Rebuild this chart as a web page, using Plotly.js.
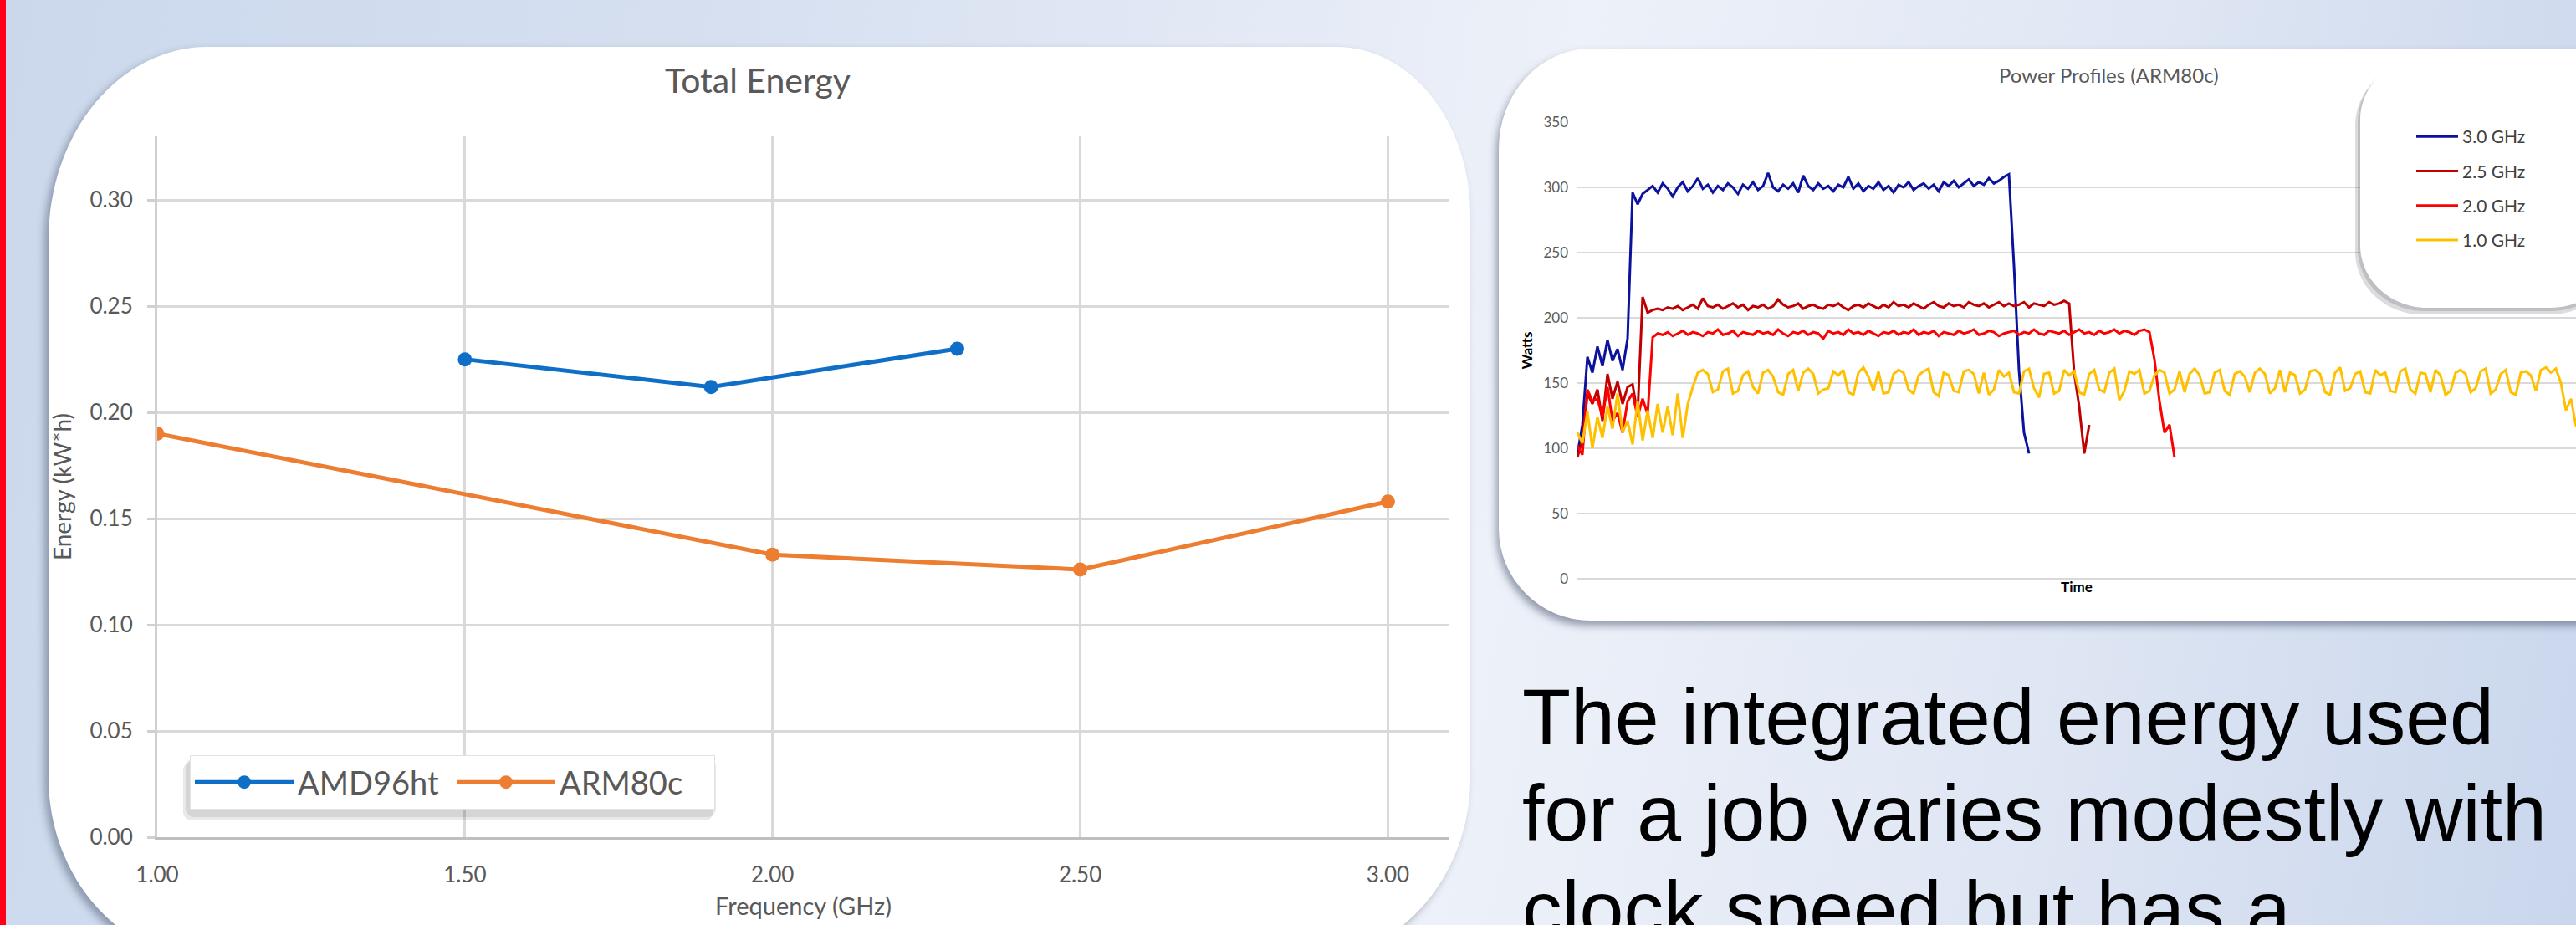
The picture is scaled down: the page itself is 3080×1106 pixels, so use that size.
<!DOCTYPE html>
<html><head><meta charset="utf-8">
<script src="https://cdn.plot.ly/plotly-3.0.1.min.js"></script>
<style>
html,body{margin:0;padding:0;width:3080px;height:1106px;overflow:hidden;}
body{position:relative;background:linear-gradient(100deg,#cbd8ec 0%,#d5dff0 25%,#e5ebf6 48%,#edf1f9 58%,#e0e7f4 78%,#c9d6ec 100%);}
#strip{position:absolute;left:0;top:0;width:7px;height:1106px;background:#ff0018;}
#card1{position:absolute;left:58px;top:56px;width:1700px;height:1094px;background:#fff;
  border-radius:190px 160px 200px 200px / 230px 200px 220px 220px;box-shadow:-5px 5px 10px rgba(60,70,95,0.45);}
#card2{position:absolute;left:1792px;top:58px;width:1400px;height:684px;background:#fff;
  border-radius:110px 0 0 110px / 120px 0 0 110px;box-shadow:-3px 6px 10px rgba(60,70,95,0.5);}
#chart{position:absolute;left:0;top:0;width:3080px;height:1106px;}
</style></head>
<body>
<div id="strip"></div><div id="card1"></div><div id="card2"></div><div id="chart"></div>
<script>
// ---- Total Energy chart data ----
const amdFreq = [1.5, 1.9, 2.3];
const amdEnergy = [0.225, 0.212, 0.230];
const armFreq = [1.0, 2.0, 2.5, 3.0];
const armEnergy = [0.190, 0.133, 0.126, 0.158];

// ---- Power Profiles (ARM80c) data, watts sampled every 6 time units ----
const sampleStep = 6;
const w30 = [95,118,170,158,178,163,183,167,176,160,184,296,287,295,
 298,301,296,303,299,293,300,304,297,301,
 307,299,302,296,301,298,303,300,295,302,
 299,304,298,301,311,300,297,302,299,303,
 296,309,301,298,303,299,301,297,302,300,
 308,299,303,297,301,299,304,298,301,296,
 302,300,304,298,301,303,299,302,297,304,
 301,305,300,303,306,301,304,302,307,303,
 305,308,
 310,240,160,112,96];
const w25 = [93,106,142,134,145,121,157,138,151,134,147,149,126,216,204,206,
 207,206,208,207,209,206,208,210,207,215,
 209,208,210,207,209,211,208,210,206,209,
 208,210,207,209,214,210,208,209,211,207,
 209,210,208,207,210,209,211,208,206,209,
 210,208,211,209,207,210,208,212,209,210,
 208,211,209,207,210,212,209,208,211,209,
 210,208,212,210,209,211,208,210,212,209,
 211,209,210,212,208,211,210,209,212,210,
 211,213,211,
 158,132,96,118];
const w20 = [102,95,145,136,138,124,147,121,127,112,136,142,124,138,126,185,
 188,187,189,186,188,190,187,189,188,186,
 189,188,191,187,188,190,186,189,188,187,
 190,188,189,187,191,188,186,189,188,190,
 187,189,188,184,190,188,189,187,191,188,
 189,187,190,188,186,189,188,190,187,189,
 188,191,187,189,188,190,186,189,188,187,
 190,188,189,191,187,188,190,189,186,188,
 189,190,187,189,188,191,188,187,190,189,
 188,190,187,189,191,188,189,187,190,188,
 189,191,188,190,189,187,190,191,189,
 168,136,112,118,93];
const w10 = [112,104,128,100,124,108,132,115,142,112,121,103,136,106,129,108,134,112,132,110,142,108,134,
 147,
 158,160,157,143,145,159,161,142,144,156,
 159,147,142,158,160,155,143,141,157,160,
 144,158,161,157,142,145,146,159,156,160,
 143,141,158,162,155,144,159,142,143,157,
 160,158,145,142,156,159,161,143,140,158,
 156,144,143,159,160,157,142,158,141,145,
 160,155,158,143,142,159,161,146,139,157,
 158,142,144,160,156,159,143,141,157,160,
 145,143,158,161,137,144,159,157,160,142,
 144,156,160,158,142,145,159,143,157,161,
 156,142,143,158,160,144,141,157,159,155,
 143,158,161,157,142,146,160,143,158,156,
 142,145,159,160,157,143,141,158,162,144,
 146,157,159,143,142,160,156,158,144,143,
 159,161,145,142,158,157,143,160,156,141,
 144,158,160,157,143,146,159,161,142,145,
 157,160,143,141,158,159,156,144,160,162,
 158,161,
 150,129,138,117,126];
const profileNames = ['3.0 GHz','2.5 GHz','2.0 GHz','1.0 GHz'];

const paragraph = ['The integrated energy used','for a job varies modestly with','clock speed but has a'];

// ---- layout helpers (pixel -> paper) ----
const W = 3080, H = 1106;
const px = x => x / W;
const py = y => 1 - y / H;
function P(x,y){ return px(x).toFixed(5)+','+py(y).toFixed(5); }
function rrect(x0,y0,x1,y1,rx,ry){
  const k = 0.5523;
  return 'M'+P(x0+rx,y0)+' L'+P(x1-rx,y0)+
    ' C'+P(x1-rx+k*rx,y0)+' '+P(x1,y0+ry-k*ry)+' '+P(x1,y0+ry)+
    ' L'+P(x1,y1-ry)+
    ' C'+P(x1,y1-ry+k*ry)+' '+P(x1-rx+k*rx,y1)+' '+P(x1-rx,y1)+
    ' L'+P(x0+rx,y1)+
    ' C'+P(x0+rx-k*rx,y1)+' '+P(x0,y1-ry+k*ry)+' '+P(x0,y1-ry)+
    ' L'+P(x0,y0+ry)+
    ' C'+P(x0,y0+ry-k*ry)+' '+P(x0+rx-k*rx,y0)+' '+P(x0+rx,y0)+' Z';
}

const F = 'Lato, "Open Sans", sans-serif';
const grey = '#595959';
const profColors = ['#0c129c','#c00000','#ff0000','#ffc000'];
const profData = [w30, w25, w20, w10];

const traces = [
  {x: amdFreq, y: amdEnergy, name: 'AMD96ht', type: 'scatter', mode: 'lines+markers',
   line: {color: '#0f6fc6', width: 5}, marker: {color: '#0f6fc6', size: 17},
   xaxis: 'x', yaxis: 'y', legend: 'legend'},
  {x: armFreq, y: armEnergy, name: 'ARM80c', type: 'scatter', mode: 'lines+markers',
   line: {color: '#ed7d31', width: 5}, marker: {color: '#ed7d31', size: 17},
   xaxis: 'x', yaxis: 'y', legend: 'legend'}
];
profData.forEach((w,i) => {
  traces.push({y: w, x0: 0, dx: sampleStep, name: profileNames[i], type: 'scatter', mode: 'lines',
    line: {color: profColors[i], width: 3}, xaxis: 'x2', yaxis: 'y2',
    legend: 'legend2', legendgroup: 'g'+i});
});

const shapes = [
  // shadow of the Total Energy legend box
  {type:'path', xref:'paper', yref:'paper', layer:'above', path: rrect(219,911,853,981,10,10),
   fillcolor:'rgba(40,40,50,0.10)', line:{width:0}},
  {type:'path', xref:'paper', yref:'paper', layer:'above', path: rrect(222,907,856,977,10,10),
   fillcolor:'rgba(40,40,50,0.10)', line:{width:0}},
  // rounded card behind the power-profile legend
  {type:'path', xref:'paper', yref:'paper', layer:'above', path: rrect(2816,75,3130,376,80,75),
   fillcolor:'rgba(60,60,70,0.18)', line:{width:0}},
  {type:'path', xref:'paper', yref:'paper', layer:'above', path: rrect(2819,71,3130,372,80,75),
   fillcolor:'rgba(60,60,70,0.18)', line:{width:0}},
  {type:'path', xref:'paper', yref:'paper', layer:'above', path: rrect(2822,68,3130,368,80,75),
   fillcolor:'#ffffff', line:{width:0}}
];

const annotations = [
  {text:'Total Energy', xref:'paper', yref:'paper', x:px(906), y:py(96), xanchor:'center', yanchor:'middle',
   showarrow:false, font:{family:F, size:41, color:grey}},
  {text:'Power Profiles (ARM80c)', xref:'paper', yref:'paper', x:px(2521), y:py(90), xanchor:'center', yanchor:'middle',
   showarrow:false, font:{family:F, size:24, color:grey}}
];
paragraph.forEach((t,i) => {
  annotations.push({text:t, xref:'paper', yref:'paper', x:px(1818), y:py(857 + 115*i), xanchor:'left', yanchor:'middle',
    showarrow:false, font:{family:'"Liberation Sans", Arial, sans-serif', size:95, color:'#000'}});
});

const layout = {
  width: W, height: H, margin: {l:0, r:0, t:0, b:0},
  paper_bgcolor: 'rgba(0,0,0,0)', plot_bgcolor: 'rgba(0,0,0,0)',
  hovermode: false,
  xaxis: {domain:[px(188), px(1733)], range:[1, 3.1], dtick:0.5, tick0:1, tickformat:'.2f',
    showgrid:true, gridcolor:'#d9d9d9', gridwidth:2.5, zeroline:false,
    showline:true, linecolor:'#bfbfbf', linewidth:3, ticks:'', ticklabelstandoff:20,
    tickfont:{family:F, size:26, color:grey},
    title:{text:'Frequency (GHz)', font:{family:F, size:29, color:grey}, standoff:14}},
  yaxis: {domain:[py(1001), py(163)], range:[0, 0.33], dtick:0.05, tick0:0, tickformat:'.2f',
    showgrid:true, gridcolor:'#d9d9d9', gridwidth:2.5, zeroline:false,
    showline:true, linecolor:'#d0d0d0', linewidth:3,
    ticks:'outside', ticklen:9, tickwidth:2.5, tickcolor:'#d0d0d0', ticklabelstandoff:12,
    tickfont:{family:F, size:26, color:grey},
    title:{text:'Energy (kW*h)', font:{family:F, size:28, color:grey}, standoff:14}},
  xaxis2: {domain:[px(1886), 1], range:[0, 1194], anchor:'y2', showgrid:false, zeroline:false,
    showticklabels:false, ticks:'', showline:false,
    title:{text:'Time', font:{family:F, size:17, color:'#000', weight:'bold'}, standoff:4}},
  yaxis2: {domain:[py(692), py(146)], range:[0, 350], dtick:50, anchor:'x2',
    showgrid:true, gridcolor:'#d9d9d9', gridwidth:2, zeroline:true, zerolinecolor:'#d9d9d9', zerolinewidth:2,
    showline:false, ticks:'', ticklabelstandoff:10,
    tickfont:{family:F, size:17, color:grey},
    title:{text:'Watts', font:{family:F, size:17, color:'#000', weight:'bold'}, standoff:8}},
  legend: {orientation:'h', x:px(227), y:py(903), xanchor:'left', yanchor:'top',
    bgcolor:'#ffffff', bordercolor:'#e2e2e2', borderwidth:1,
    font:{family:F, size:38, color:grey}, itemwidth:118, entrywidth:180},
  legend2: {x:px(2884), y:py(143), xanchor:'left', yanchor:'top', bgcolor:'rgba(0,0,0,0)',
    font:{family:F, size:21, color:'#404040'}, itemwidth:50, tracegroupgap:11},
  shapes: shapes,
  annotations: annotations
};

Plotly.newPlot('chart', traces, layout, {displayModeBar:false});
</script>
</body></html>
